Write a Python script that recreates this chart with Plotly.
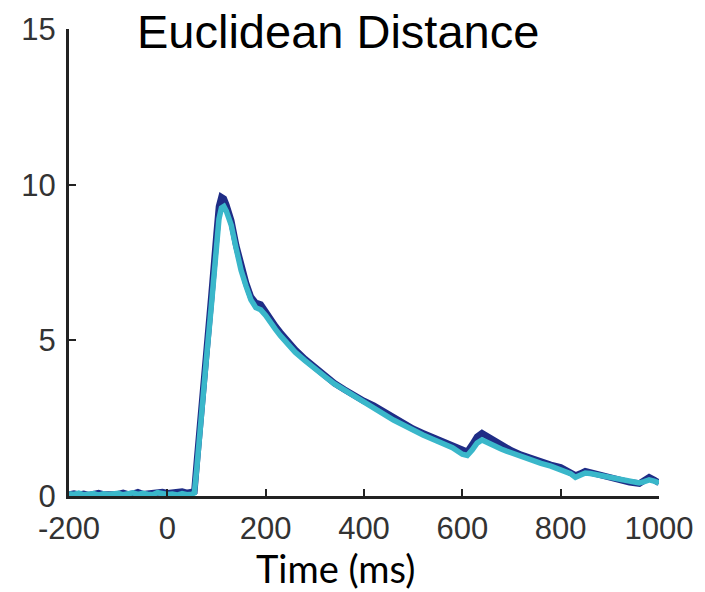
import plotly.graph_objects as go

# Time axis (ms) and Euclidean distance for the two conditions
time_ms = [-200, -190, -180, -170, -160, -150, -140, -130, -120, -110, -100, -90, -80,
           -70, -60, -50, -40, -30, -20, -10, 0, 10, 20, 30, 40, 50, 55, 60, 70, 80, 90,
           100, 105, 110, 115, 120, 130, 140, 150, 160, 170, 180, 190, 200, 210, 220,
           230, 240, 250, 260, 280, 300, 320, 340, 360, 380, 400, 420, 440, 460, 480,
           500, 520, 540, 560, 580, 600, 610, 620, 630, 640, 650, 660, 670, 680, 690,
           700, 720, 740, 760, 780, 800, 820, 830, 840, 850, 860, 880, 900, 920, 940,
           960, 970, 980, 990, 1000]

dist_dark = [0.05, 0.08, 0.04, 0.07, 0.03, 0.06, 0.09, 0.05, 0.04, 0.08, 0.06, 0.10, 0.05,
             0.07, 0.12, 0.06, 0.08, 0.10, 0.07, 0.13, 0.09, 0.11, 0.08, 0.14, 0.10, 0.12,
             0.15, 1.1, 3.1, 4.7, 6.5, 8.4, 9.3, 9.6, 9.55, 9.35, 8.85, 8.05, 7.35, 6.85,
             6.4, 6.2, 6.15, 5.9, 5.65, 5.45, 5.25, 5.05, 4.9, 4.7, 4.4, 4.12, 3.88, 3.62,
             3.42, 3.22, 3.05, 2.9, 2.7, 2.5, 2.34, 2.16, 2.02, 1.88, 1.75, 1.6, 1.47, 1.42,
             1.65, 1.9, 2.02, 1.92, 1.8, 1.7, 1.64, 1.55, 1.46, 1.32, 1.2, 1.1, 1.0, 0.92,
             0.78, 0.66, 0.72, 0.8, 0.76, 0.68, 0.6, 0.5, 0.44, 0.4, 0.52, 0.6, 0.52, 0.42]

dist_light = [0.07, 0.05, 0.09, 0.04, 0.06, 0.08, 0.03, 0.07, 0.05, 0.06, 0.09, 0.04, 0.08,
              0.10, 0.05, 0.09, 0.06, 0.04, 0.11, 0.07, 0.05, 0.06, 0.03, 0.08, 0.04, 0.06,
              0.1, 0.9, 2.9, 4.5, 6.2, 8.1, 8.9, 9.25, 9.3, 9.15, 8.7, 7.95, 7.25, 6.75,
              6.3, 6.05, 5.98, 5.8, 5.55, 5.35, 5.15, 4.95, 4.8, 4.62, 4.35, 4.08, 3.84,
              3.6, 3.4, 3.2, 3.0, 2.82, 2.62, 2.44, 2.28, 2.1, 1.96, 1.82, 1.7, 1.55, 1.34,
              1.3, 1.48, 1.7, 1.8, 1.72, 1.62, 1.55, 1.5, 1.44, 1.38, 1.26, 1.15, 1.05,
              0.96, 0.86, 0.72, 0.6, 0.66, 0.74, 0.72, 0.66, 0.58, 0.5, 0.45, 0.42, 0.46,
              0.52, 0.48, 0.42]

x_ticks = [-200, 0, 200, 400, 600, 800, 1000]
x_tick_labels = ["-200", "0", "200", "400", "600", "800", "1000"]
y_ticks = [0, 5, 10, 15]
y_tick_labels = ["0", "5", "10", "15"]

fig = go.Figure()
fig.add_trace(go.Scatter(x=time_ms, y=dist_dark, mode="lines",
                         line=dict(color="#1F2D86", width=6.5), showlegend=False))
fig.add_trace(go.Scatter(x=time_ms, y=dist_light, mode="lines",
                         line=dict(color="#3AB7CA", width=5.5), showlegend=False))

axis_font = dict(family="Liberation Sans, Arial, sans-serif", size=31, color="#333333")

fig.update_layout(
    width=705, height=592,
    margin=dict(l=69, r=42, t=28, b=96),
    paper_bgcolor="white", plot_bgcolor="white",
    xaxis=dict(range=[-200, 1000], tickvals=x_ticks, ticktext=x_tick_labels,
               ticks="inside", ticklen=7, tickwidth=2, tickcolor="#222222",
               showline=True, linecolor="#222222", linewidth=3, showgrid=False,
               zeroline=False, tickfont=axis_font, ticklabelstandoff=3),
    yaxis=dict(range=[0, 15], tickvals=y_ticks, ticktext=y_tick_labels,
               ticks="inside", ticklen=7, tickwidth=2, tickcolor="#222222",
               showline=True, linecolor="#222222", linewidth=3, showgrid=False,
               zeroline=False, tickfont=axis_font, ticklabelstandoff=4),
    annotations=[
        dict(text="Euclidean Distance", xref="paper", yref="paper", x=(340 - 69) / 594,
             y=1 + (28 - 31) / 468, xanchor="center", yanchor="middle", showarrow=False,
             font=dict(family="Liberation Sans, Arial, sans-serif", size=47, color="black")),
        dict(text="Time (ms)", xref="paper", yref="paper", x=(337 - 69) / 594,
             y=-(568 - 496) / 468, xanchor="center", yanchor="middle", showarrow=False,
             font=dict(family="Lato, sans-serif", size=38, color="black")),
    ],
)

fig.write_html("out.html")
